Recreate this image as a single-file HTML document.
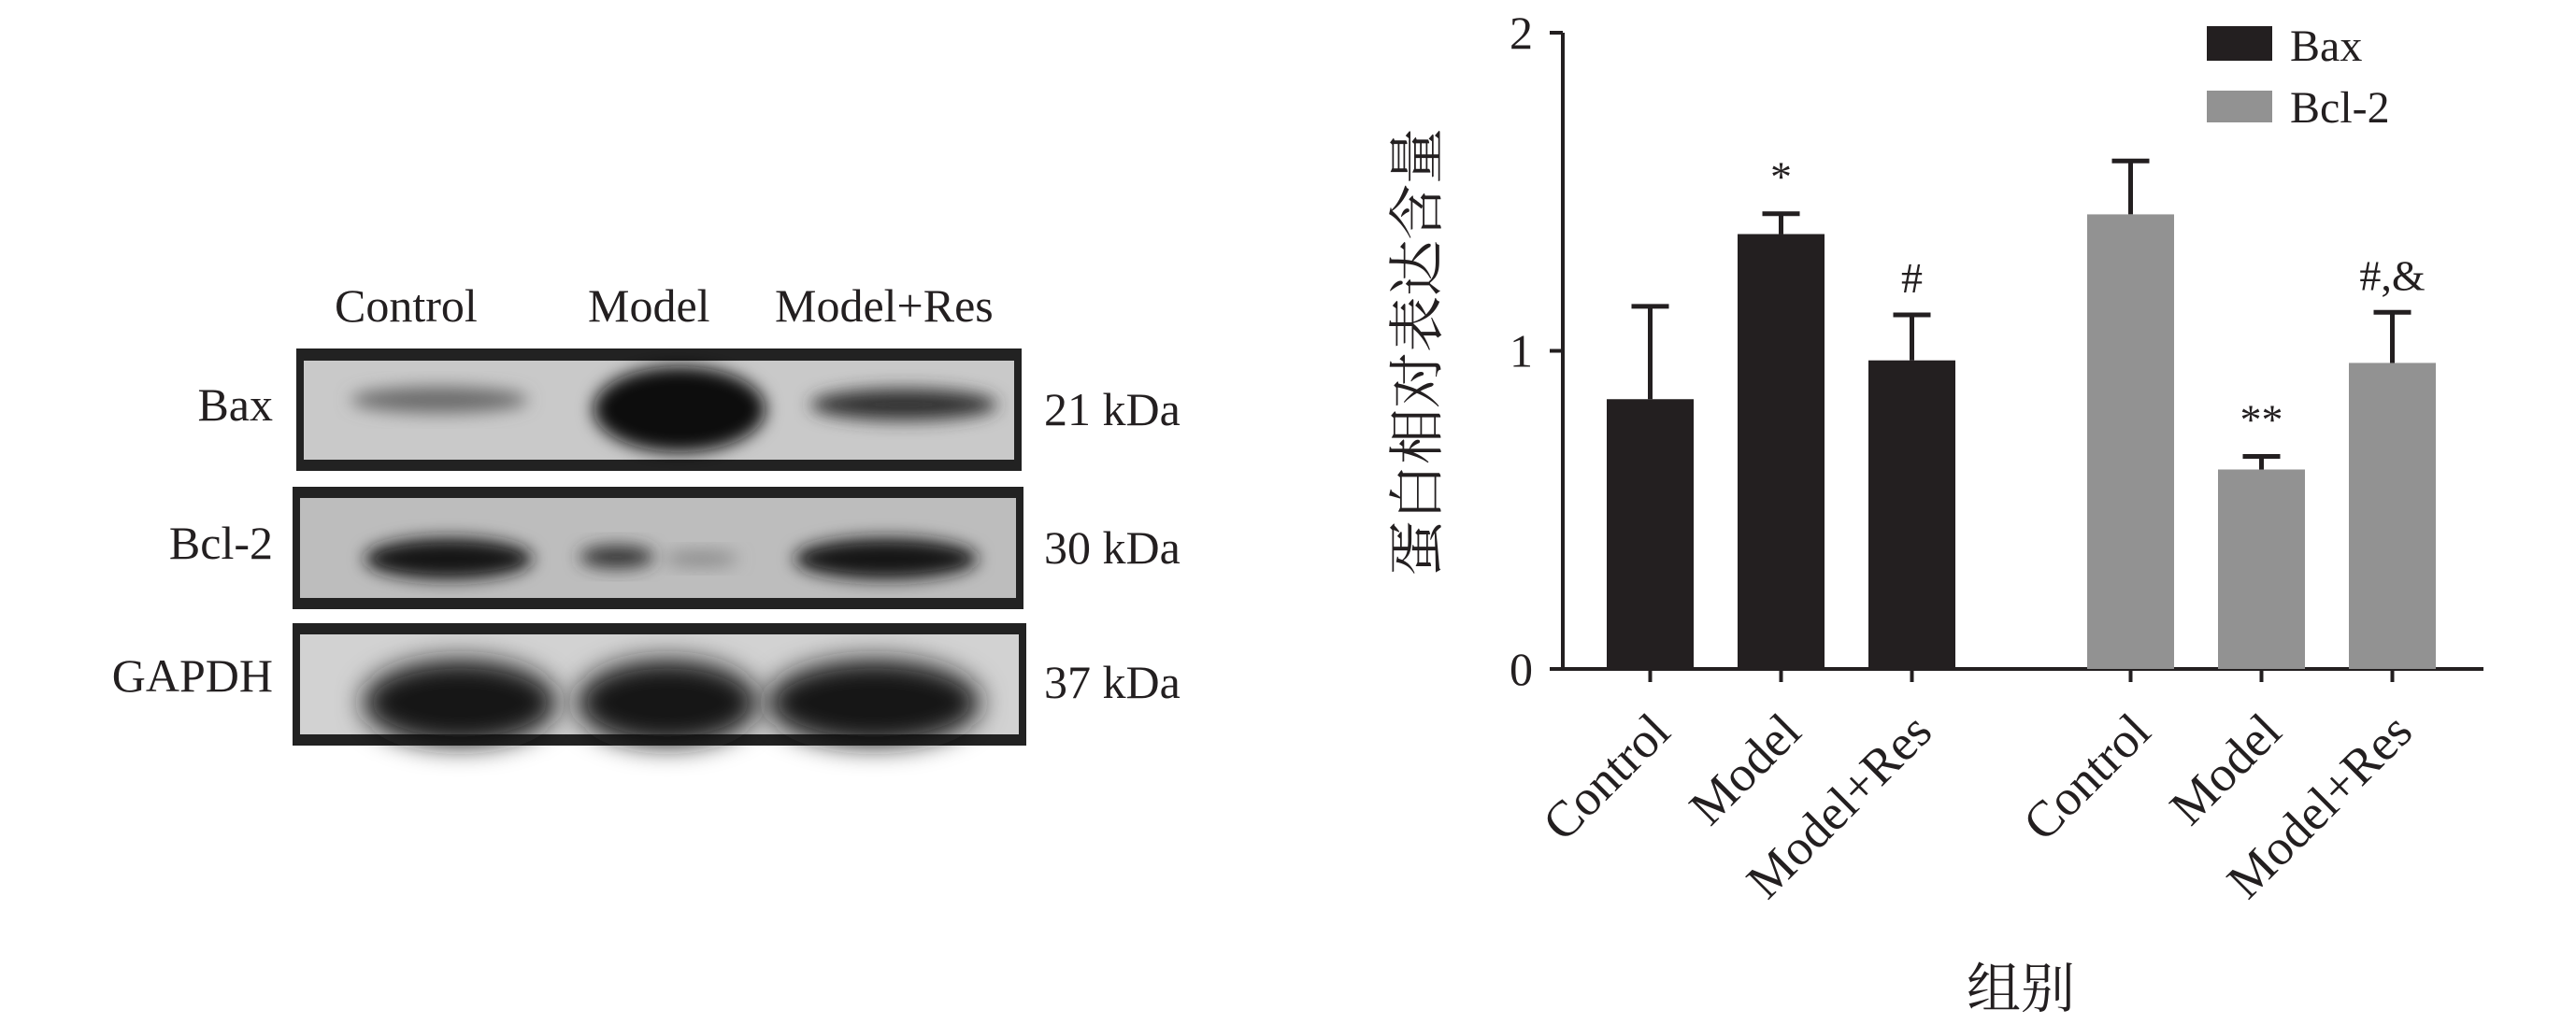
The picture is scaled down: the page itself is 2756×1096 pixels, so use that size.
<!DOCTYPE html>
<html><head><meta charset="utf-8"><style>
html,body{margin:0;padding:0;background:#fff}
svg{display:block}
text{font-family:"Liberation Serif","Noto Serif CJK SC",serif;fill:#231f20}
</style></head><body>
<svg id="fig" width="2756" height="1096" viewBox="0 0 2756 1096" xmlns="http://www.w3.org/2000/svg">
<defs>
<filter id="blur" x="-30%" y="-60%" width="160%" height="220%"><feGaussianBlur stdDeviation="9"/></filter>
<filter id="blur2" x="-30%" y="-60%" width="160%" height="220%"><feGaussianBlur stdDeviation="14"/></filter>
</defs>
<g>
  <text x="358" y="344" font-size="50">Control</text>
  <text x="629" y="344" font-size="50">Model</text>
  <text x="829" y="344" font-size="50">Model+Res</text>

  <g>
    <rect x="317" y="373" width="776" height="131" fill="#222" />
    <rect x="325" y="386" width="760" height="106" fill="#c9c9c9"/>
    <ellipse cx="470" cy="428" rx="95" ry="14" fill="#6a6a6a" filter="url(#blur)"/>
    <ellipse cx="727" cy="438" rx="92" ry="46" fill="#111" filter="url(#blur)"/>
    <ellipse cx="967" cy="433" rx="100" ry="17" fill="#333" filter="url(#blur)"/>
  </g>
  <g>
    <rect x="313" y="521" width="782" height="131" fill="#222"/>
    <rect x="321" y="533" width="766" height="107" fill="#bdbdbd"/>
    <ellipse cx="480" cy="598" rx="90" ry="22" fill="#151515" filter="url(#blur)"/>
    <ellipse cx="660" cy="596" rx="40" ry="12" fill="#333" filter="url(#blur)"/>
    <ellipse cx="750" cy="598" rx="40" ry="8" fill="#888" filter="url(#blur)"/>
    <ellipse cx="948" cy="598" rx="98" ry="22" fill="#151515" filter="url(#blur)"/>
  </g>
  <g>
    <rect x="313" y="667" width="785" height="131" fill="#222"/>
    <rect x="321" y="679" width="769" height="107" fill="#d2d2d2"/>
    <ellipse cx="492" cy="752" rx="104" ry="46" fill="#151515" filter="url(#blur2)"/>
    <ellipse cx="714" cy="752" rx="97" ry="46" fill="#151515" filter="url(#blur2)"/>
    <ellipse cx="935" cy="752" rx="114" ry="46" fill="#151515" filter="url(#blur2)"/>
  </g>
  <text x="292" y="450" font-size="50" text-anchor="end">Bax</text>
  <text x="292" y="598" font-size="50" text-anchor="end">Bcl-2</text>
  <text x="292" y="740" font-size="50" text-anchor="end">GAPDH</text>
  <text x="1117" y="455" font-size="50">21 kDa</text>
  <text x="1117" y="603" font-size="50">30 kDa</text>
  <text x="1117" y="747" font-size="50">37 kDa</text>
</g>
<g id="chart"></g>
</svg>
<script>
const categories = ["Control","Model","Model+Res"];
const baxValues = [0.848, 1.367, 0.970];
const baxErrors = [0.292, 0.064, 0.143];
const bcl2Values = [1.429, 0.627, 0.962];
const bcl2Errors = [0.168, 0.041, 0.159];
const baxMarks = ["", "*", "#"];
const bcl2Marks = ["", "**", "#,&"];
const yTicks = [0, 1, 2];

const NS = "http://www.w3.org/2000/svg";
const g = document.getElementById("chart");
const y0 = 716, y2 = 35, axisX = 1672, axisEnd = 2657;
const yScale = v => y0 - (y0 - y2) * v / 2;
const groupStart = [1719, 2233], barW = 93, barStep = 140;
const xBar = (grp, i) => groupStart[grp] + i * barStep;
function el(tag, attrs, parent) {
  const e = document.createElementNS(NS, tag);
  for (const k in attrs) e.setAttribute(k, attrs[k]);
  (parent || g).appendChild(e);
  return e;
}
// axes
const ya = el("line", {x1: axisX, y1: y2, x2: axisX, y2: y0 + 2, stroke: "#231f20", "stroke-width": 4});


const xa = el("line", {x1: axisX - 2, y1: y0, x2: axisEnd, y2: y0, stroke: "#231f20", "stroke-width": 4});


yTicks.forEach(t => {
  const yy = yScale(t);
  const tk = el("line", {x1: axisX - 14, y1: yy, x2: axisX, y2: yy, stroke: "#231f20", "stroke-width": 4});
  
  
  const tl = el("text", {x: 1640, y: yy + 17, "font-size": 50, "text-anchor": "end"});
  tl.textContent = t;
  
  
});
const series = [
  {vals: baxValues, errs: baxErrors, marks: baxMarks, color: "#231f20", name: "bax"},
  {vals: bcl2Values, errs: bcl2Errors, marks: bcl2Marks, color: "#929292", name: "bcl2"}
];
series.forEach((s, gi) => {
  s.vals.forEach((v, i) => {
    const x = xBar(gi, i), cx = x + barW / 2;
    const top = yScale(v), etop = yScale(v + s.errs[i]);
    const eb = el("line", {x1: cx, y1: top, x2: cx, y2: etop, stroke: "#231f20", "stroke-width": 5});
    
    
    const cap = el("line", {x1: cx - 20, y1: etop, x2: cx + 20, y2: etop, stroke: "#231f20", "stroke-width": 5});
    
    
    const r = el("rect", {x: x, y: top, width: barW, height: y0 - top, fill: s.color});
    
    
    const tk = el("line", {x1: cx, y1: y0, x2: cx, y2: y0 + 14, stroke: "#231f20", "stroke-width": 4});
    
    
    if (s.marks[i]) {
      const m = el("text", {x: cx, y: etop - 24, "font-size": 46, "text-anchor": "middle"});
      m.textContent = s.marks[i];
      
      
    }
    const lab = el("text", {x: 0, y: 0, "font-size": 54, "text-anchor": "end", transform: "translate(" + (cx + 24) + "," + (y0 + 70) + ") rotate(-45)"});
    lab.textContent = categories[i];
    
    
  });
});
// legend
[["Bax", "#231f20", 28, 65], ["Bcl-2", "#929292", 97, 131]].forEach(l => {
  const r = el("rect", {x: 2361, y: l[2], width: 70, height: l[3] - l[2], fill: l[1]});
  
  
  const t = el("text", {x: 2450, y: l[3], "font-size": 48});
  t.textContent = l[0];
  
  
});
const yt = el("text", {x: 0, y: 0, "font-size": 60, "text-anchor": "middle", transform: "translate(1537,377) rotate(-90)"});
yt.textContent = "蛋白相对表达含量";


const xt = el("text", {x: 2162, y: 1078, "font-size": 58, "text-anchor": "middle"});
xt.textContent = "组别";


</script>
</body></html>
